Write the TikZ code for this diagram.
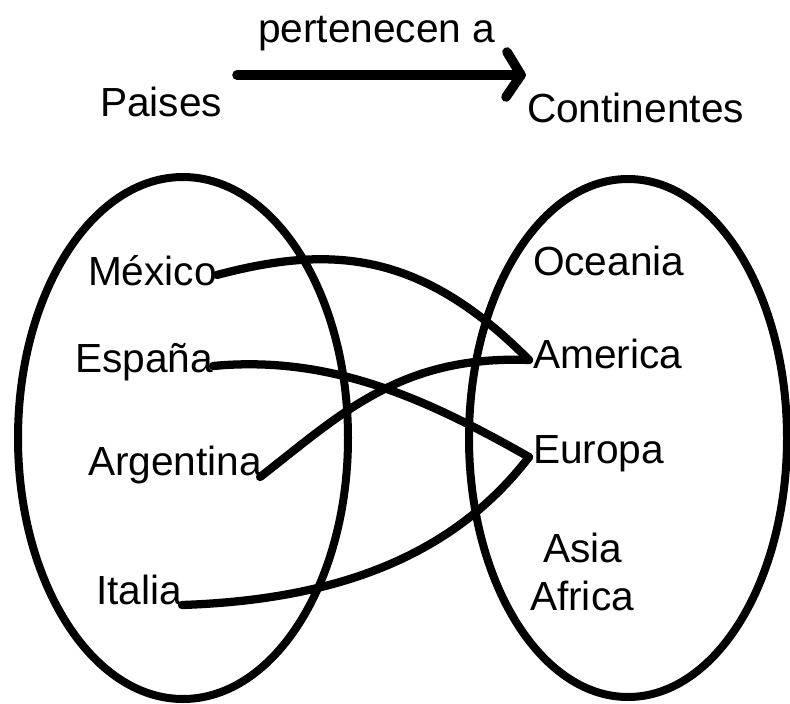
\documentclass[tikz,border=0pt]{standalone}
\usepackage{fontspec}
\setmainfont{Liberation Sans}
\usetikzlibrary{calc}
\tikzset{
  lbl/.style={anchor=base west, inner sep=0pt, outer sep=0pt, font=\fontsize{30.5}{36}\selectfont},
  setline/.style={line width=6pt},
  conn/.style={line width=6.2pt, line cap=round, line join=round},
}
\begin{document}
\begin{tikzpicture}[x=0.75pt, y=-0.75pt]
\useasboundingbox (0,0) rectangle (790,704);
% titles
\node[lbl] (pert) at (258,42) {pertenecen a};
\node[lbl] (paises) at (100,116) {Paises};
\node[lbl] (cont) at (527,122) {Continentes};
\coordinate (arrS) at (237,75);
\coordinate (arrE) at (521,75);
\draw[line width=7.2pt, line cap=round] (arrS) -- (arrE);
\draw[line width=7.2pt, line cap=round, line join=round] ($(arrE)+(-14,-23)$) -- (arrE) -- ($(arrE)+(-15,22)$);
% sets
\draw[setline] (183,438) ellipse [x radius=165, y radius=261];
\draw[setline] (628,438) ellipse [x radius=159, y radius=259];
% countries
\node[lbl] (mex) at (88,285) {México};
\node[lbl] (esp) at (75,372) {España};
\node[lbl] (arg) at (88,475) {Argentina};
\node[lbl] (ita) at (96,604) {Italia};
% continents
\node[lbl] (oce) at (533,275) {Oceania};
\node[lbl] (ame) at (533,368) {America};
\node[lbl] (eur) at (533,463) {Europa};
\node[lbl] (asi) at (543,562) {Asia};
\node[lbl] (afr) at (530,610) {Africa};
% connectors
\draw[conn] ($(mex.base east)+(0,-10)$) .. controls (330,245) and (420,250) .. ($(ame.base west)+(-4,-8)$);
\draw[conn] ($(esp.base east)+(0,-6)$) .. controls (330,355) and (425,398) .. ($(eur.base west)+(-4,-6)$);
\draw[conn] ($(arg.base east)+(-2,2)$) .. controls (340,415) and (400,355) .. ($(ame.base west)+(-4,-8)$);
\draw[conn] ($(ita.base east)+(0,1)$) .. controls (330,600) and (450,560) .. ($(eur.base west)+(-4,-6)$);
\end{tikzpicture}
\end{document}
